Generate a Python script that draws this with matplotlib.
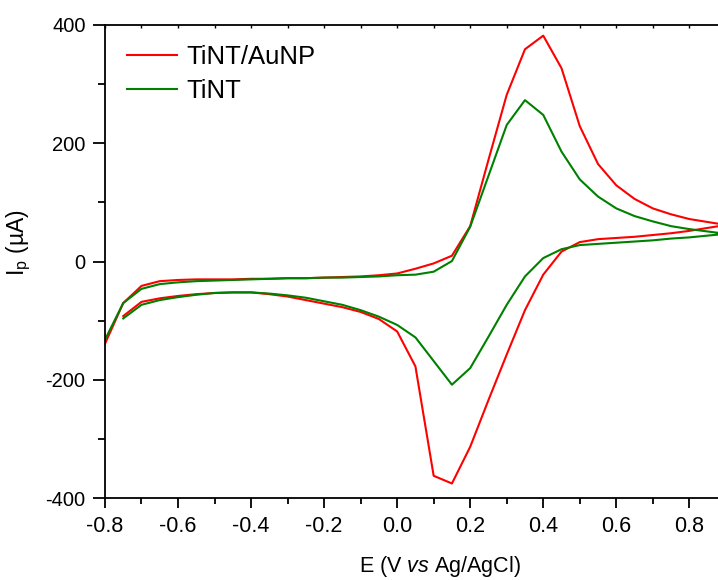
import numpy as np
import matplotlib
matplotlib.use('Agg')
import matplotlib.pyplot as plt
from matplotlib.ticker import MultipleLocator

plt.rcParams['font.family'] = ['Liberation Sans', 'DejaVu Sans']
plt.rcParams['mathtext.fontset'] = 'custom'
plt.rcParams['mathtext.rm'] = 'Liberation Sans'
plt.rcParams['mathtext.it'] = 'Liberation Sans:italic'

# potential, forward scan (-0.8 -> 0.9) and reverse scan (0.85 -> -0.75), V
e_fwd = [-0.80, -0.75, -0.70, -0.65, -0.60, -0.55, -0.50, -0.45, -0.40, -0.35,
         -0.30, -0.25, -0.20, -0.15, -0.10, -0.05, 0.00, 0.05, 0.10, 0.15,
         0.20, 0.25, 0.30, 0.35, 0.40, 0.45, 0.50, 0.55, 0.60, 0.65,
         0.70, 0.75, 0.80, 0.85, 0.90]
e_rev = [0.85, 0.80, 0.75, 0.70, 0.65, 0.60, 0.55, 0.50, 0.45, 0.40,
         0.35, 0.30, 0.25, 0.20, 0.15, 0.10, 0.05, 0.00, -0.05, -0.10,
         -0.15, -0.20, -0.25, -0.30, -0.35, -0.40, -0.45, -0.50, -0.55, -0.60,
         -0.65, -0.70, -0.75]

# current, uA
aunp_fwd = [-139, -70, -41, -33, -31, -30, -30, -30, -29, -29,
            -28, -28, -27, -26, -25, -23, -20, -12, -3, 10,
            60, 172, 282, 359, 382, 327, 229, 165, 129, 106,
            90, 80, 72, 67, 62]
aunp_rev = [57, 52, 48, 45, 42, 40, 38, 33, 17, -22,
            -82, -157, -234, -313, -375, -362, -177, -118, -97, -85,
            -77, -71, -65, -59, -55, -52, -52, -53, -55, -58,
            -62, -68, -92]

tint_fwd = [-132, -70, -46, -38, -35, -33, -32, -31, -30, -29,
            -28, -28, -27, -27, -26, -25, -23, -22, -17, 1,
            59, 145, 231, 273, 248, 186, 139, 110, 90, 77,
            68, 60, 55, 51, 47]
tint_rev = [44, 41, 39, 36, 34, 32, 30, 28, 21, 6,
            -25, -73, -127, -180, -208, -168, -128, -107, -93, -82,
            -73, -67, -61, -57, -54, -52, -52, -53, -56, -60,
            -65, -73, -96]

e = np.array(e_fwd + e_rev)
i_aunp = np.array(aunp_fwd + aunp_rev)
i_tint = np.array(tint_fwd + tint_rev)

fig = plt.figure(figsize=(7.18, 5.8), dpi=100)
ax = fig.add_axes([0.1462, 0.1409, 0.8538, 0.8160])

ax.plot(e, i_aunp, color='#ff0000', lw=1.5, label='TiNT/AuNP')
ax.plot(e, i_tint, color='#008000', lw=1.5, label='TiNT')

ax.set_xlim(-0.8, 0.8785)
ax.set_ylim(-400, 400)

ax.xaxis.set_major_locator(MultipleLocator(0.2))
ax.xaxis.set_minor_locator(MultipleLocator(0.1))
ax.yaxis.set_major_locator(MultipleLocator(200))
ax.yaxis.set_minor_locator(MultipleLocator(100))
ax.xaxis.set_major_formatter(plt.FuncFormatter(lambda v, p: f'{v:.1f}'))
ax.yaxis.set_major_formatter(plt.FuncFormatter(lambda v, p: f'{v:.0f}'))

ax.tick_params(axis='x', which='major', length=7, width=1.3, labelsize=15.5, pad=6)
ax.tick_params(axis='x', which='minor', length=4, width=1.3)
ax.tick_params(axis='y', which='major', length=9, width=1.3, labelsize=14.5, pad=5)
ax.tick_params(axis='y', which='minor', length=5, width=1.3)

for s in ['left', 'bottom', 'top']:
    ax.spines[s].set_linewidth(1.3)
ax.spines['right'].set_visible(False)

top = ax.secondary_xaxis('top')
top.xaxis.set_major_locator(MultipleLocator(0.1))
top.tick_params(direction='in', length=2.5, width=1, labeltop=False)
top.spines['top'].set_visible(False)

ax.set_xlabel('E (V $\\mathit{vs}$ Ag/AgCl)', fontsize=15.5)
ax.xaxis.set_label_coords(0.5465, -0.118)
ax.set_ylabel('$\\mathrm{I_p}$ (µA)', fontsize=16.5)
ax.yaxis.set_label_coords(-0.118, 0.54)

ax.legend(loc='upper left', bbox_to_anchor=(0.036, 0.958), frameon=False,
          fontsize=18.5, handlelength=1.95, handletextpad=0.35,
          labelspacing=0.38, borderpad=0, borderaxespad=0)

fig.savefig('out.png', dpi=100)
